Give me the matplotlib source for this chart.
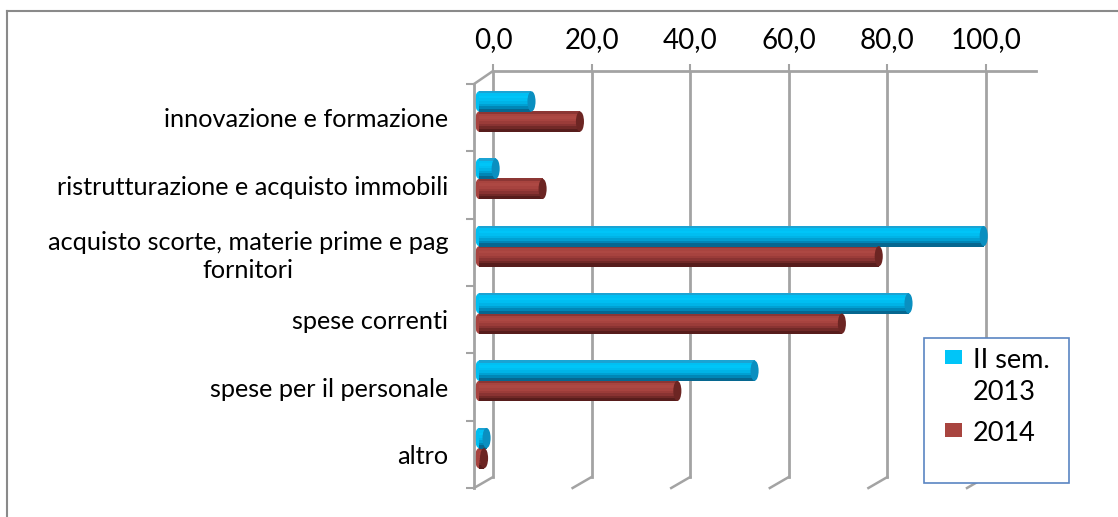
import numpy as np
import matplotlib.pyplot as plt
from matplotlib.patches import Ellipse, Rectangle
from matplotlib.lines import Line2D

# ── Data ─────────────────────────────────────────────────────────────
categories = [
    "innovazione e formazione",
    "ristrutturazione e acquisto immobili",
    "acquisto scorte, materie prime e pag\nfornitori",
    "spese correnti",
    "spese per il personale",
    "altro",
]
sem2_2013 = [10.4, 3.3, 100.0, 85.1, 54.6, 1.5]
y2014     = [20.0, 12.6, 79.2, 71.9, 39.3, 1.0]
series_names = ["II sem.\n2013", "2014"]
x_ticks = [0, 20, 40, 60, 80, 100]
x_tick_labels = ["0,0", "20,0", "40,0", "60,0", "80,0", "100,0"]

# ── Style ────────────────────────────────────────────────────────────
W, H = 1118, 517
GRID = "#a3a3a3"
BORDER = "#8a8a8a"
BLUE_SHADES = ["#1ba3d3", "#00c0f4", "#00c5f8", "#00bef1", "#00b3e6",
               "#00a0d2", "#0086b6", "#066790"]
RED_SHADES = ["#8c3634", "#a8443f", "#ad4843", "#a7433f", "#9b3c39",
              "#893332", "#712927", "#571d1c"]
BLUE_CAP, RED_CAP = "#0a8fc0", "#6c2523"
LEGEND_EDGE = "#5a85c2"

plt.rcParams["font.family"] = ["Lato", "DejaVu Sans"]

BAR_H = 0.30            # bar thickness in category units
CAP_W = 1.6             # end-cap width in value units
DEPTH = 3.854           # back wall shift in value units


def box(left, top, right, bottom):
    """Figure-fraction rect from pixel edges (top-down y)."""
    return [left / W, 1 - bottom / H, (right - left) / W, (bottom - top) / H]


def cylinder(ax, ypos, values, shades, cap_color):
    n = len(shades)
    h = BAR_H / n
    for yi, v in zip(ypos, values):
        ax.add_patch(Ellipse((0, yi), CAP_W, BAR_H, color=shades[3], lw=0, zorder=2))
    for k, c in enumerate(shades):
        # slight overlap so the stripes blend without seams
        ax.barh(ypos - BAR_H / 2 + (k + 0.5) * h, values, height=h * 1.3,
                color=c, lw=0, zorder=3 + k * 0.01)
    for yi, v in zip(ypos, values):
        ax.add_patch(Ellipse((v, yi), CAP_W, BAR_H, color=cap_color, lw=0, zorder=4))


fig = plt.figure(figsize=(W / 100, H / 100), dpi=100)

# outer chart border (top and left edges)
fig.add_artist(Line2D([7 / W, 1], [1 - 11 / H] * 2, color=BORDER, lw=1.5))
fig.add_artist(Line2D([7 / W] * 2, [0, 1 - 11 / H], color=BORDER, lw=1.5))

# back wall: value axis on top + gridlines
ax_back = fig.add_axes(box(474, 71, 1036, 488))
ax_back.set_facecolor("none")
ax_back.set_xlim(-DEPTH, 110.14)
ax_back.set_ylim(0, 1)
for s in ["left", "right", "bottom"]:
    ax_back.spines[s].set_visible(False)
ax_back.spines["top"].set_bounds(0, 110.14)
ax_back.spines["top"].set_color(GRID)
ax_back.spines["top"].set_linewidth(2)
ax_back.xaxis.tick_top()
ax_back.set_xticks(x_ticks, x_tick_labels)
ax_back.tick_params(axis="x", length=5, width=1.5, color=GRID, pad=8,
                    labelsize=20, labelcolor="black")
ax_back.set_yticks([])
floor_back = (488 - 477) / 417
for t in x_ticks:
    ax_back.axvline(t, floor_back, 1, color=GRID, lw=2)
    ax_back.plot([t, t - DEPTH], [floor_back, 0], color=GRID, lw=1.8,
                 transform=ax_back.get_xaxis_transform(), clip_on=False)
ax_back.plot([-DEPTH, 0], [(488 - 84) / 417, 1], color=GRID, lw=1.8,
             transform=ax_back.get_xaxis_transform(), clip_on=False)

# front: bars and category axis
ax = fig.add_axes(box(474, 71, 1036, 488))
ax.set_facecolor("none")
ax.set_xlim(-0.99, 110.36)
ax.set_ylim(5.592, -0.6015)
for s in ["top", "right", "bottom"]:
    ax.spines[s].set_visible(False)
ax.spines["left"].set_bounds(-0.408, 5.592)
ax.spines["left"].set_color(GRID)
ax.spines["left"].set_linewidth(2)
ax.set_xticks([])
ax.set_yticks(np.arange(7) - 0.408)
ax.set_yticklabels([])
ax.tick_params(axis="y", which="major", length=5.8, width=1.5, color=GRID)
ax.set_yticks(np.arange(len(categories)) + 0.092, categories, minor=True)
ax.tick_params(axis="y", which="minor", length=0, pad=18.5, labelsize=18.2)
for lab in ax.get_yticklabels(minor=True):
    lab.set_multialignment("center")
    lab.set_linespacing(1.25)

ypos = np.arange(len(categories))
cylinder(ax, ypos - BAR_H / 2, sem2_2013, BLUE_SHADES, BLUE_CAP)
cylinder(ax, ypos + BAR_H / 2, y2014, RED_SHADES, RED_CAP)

# legend box
fig.add_artist(Rectangle((924 / W, 1 - 483 / H), 145 / W, 145 / H,
                         transform=fig.transFigure, facecolor="white",
                         edgecolor=LEGEND_EDGE, lw=1.2))
for (ytop, name, col) in [(350, series_names[0], BLUE_SHADES[2]),
                          (423, series_names[1], RED_SHADES[1])]:
    fig.add_artist(Rectangle((945 / W, 1 - (ytop + 14) / H), 17 / W, 14 / H,
                             transform=fig.transFigure, color=col, lw=0))
    fig.text(973 / W, 1 - (ytop - 2) / H, name, fontsize=19.5, va="top",
             ha="left", linespacing=1.35)

fig.savefig("out.png", dpi=100)
